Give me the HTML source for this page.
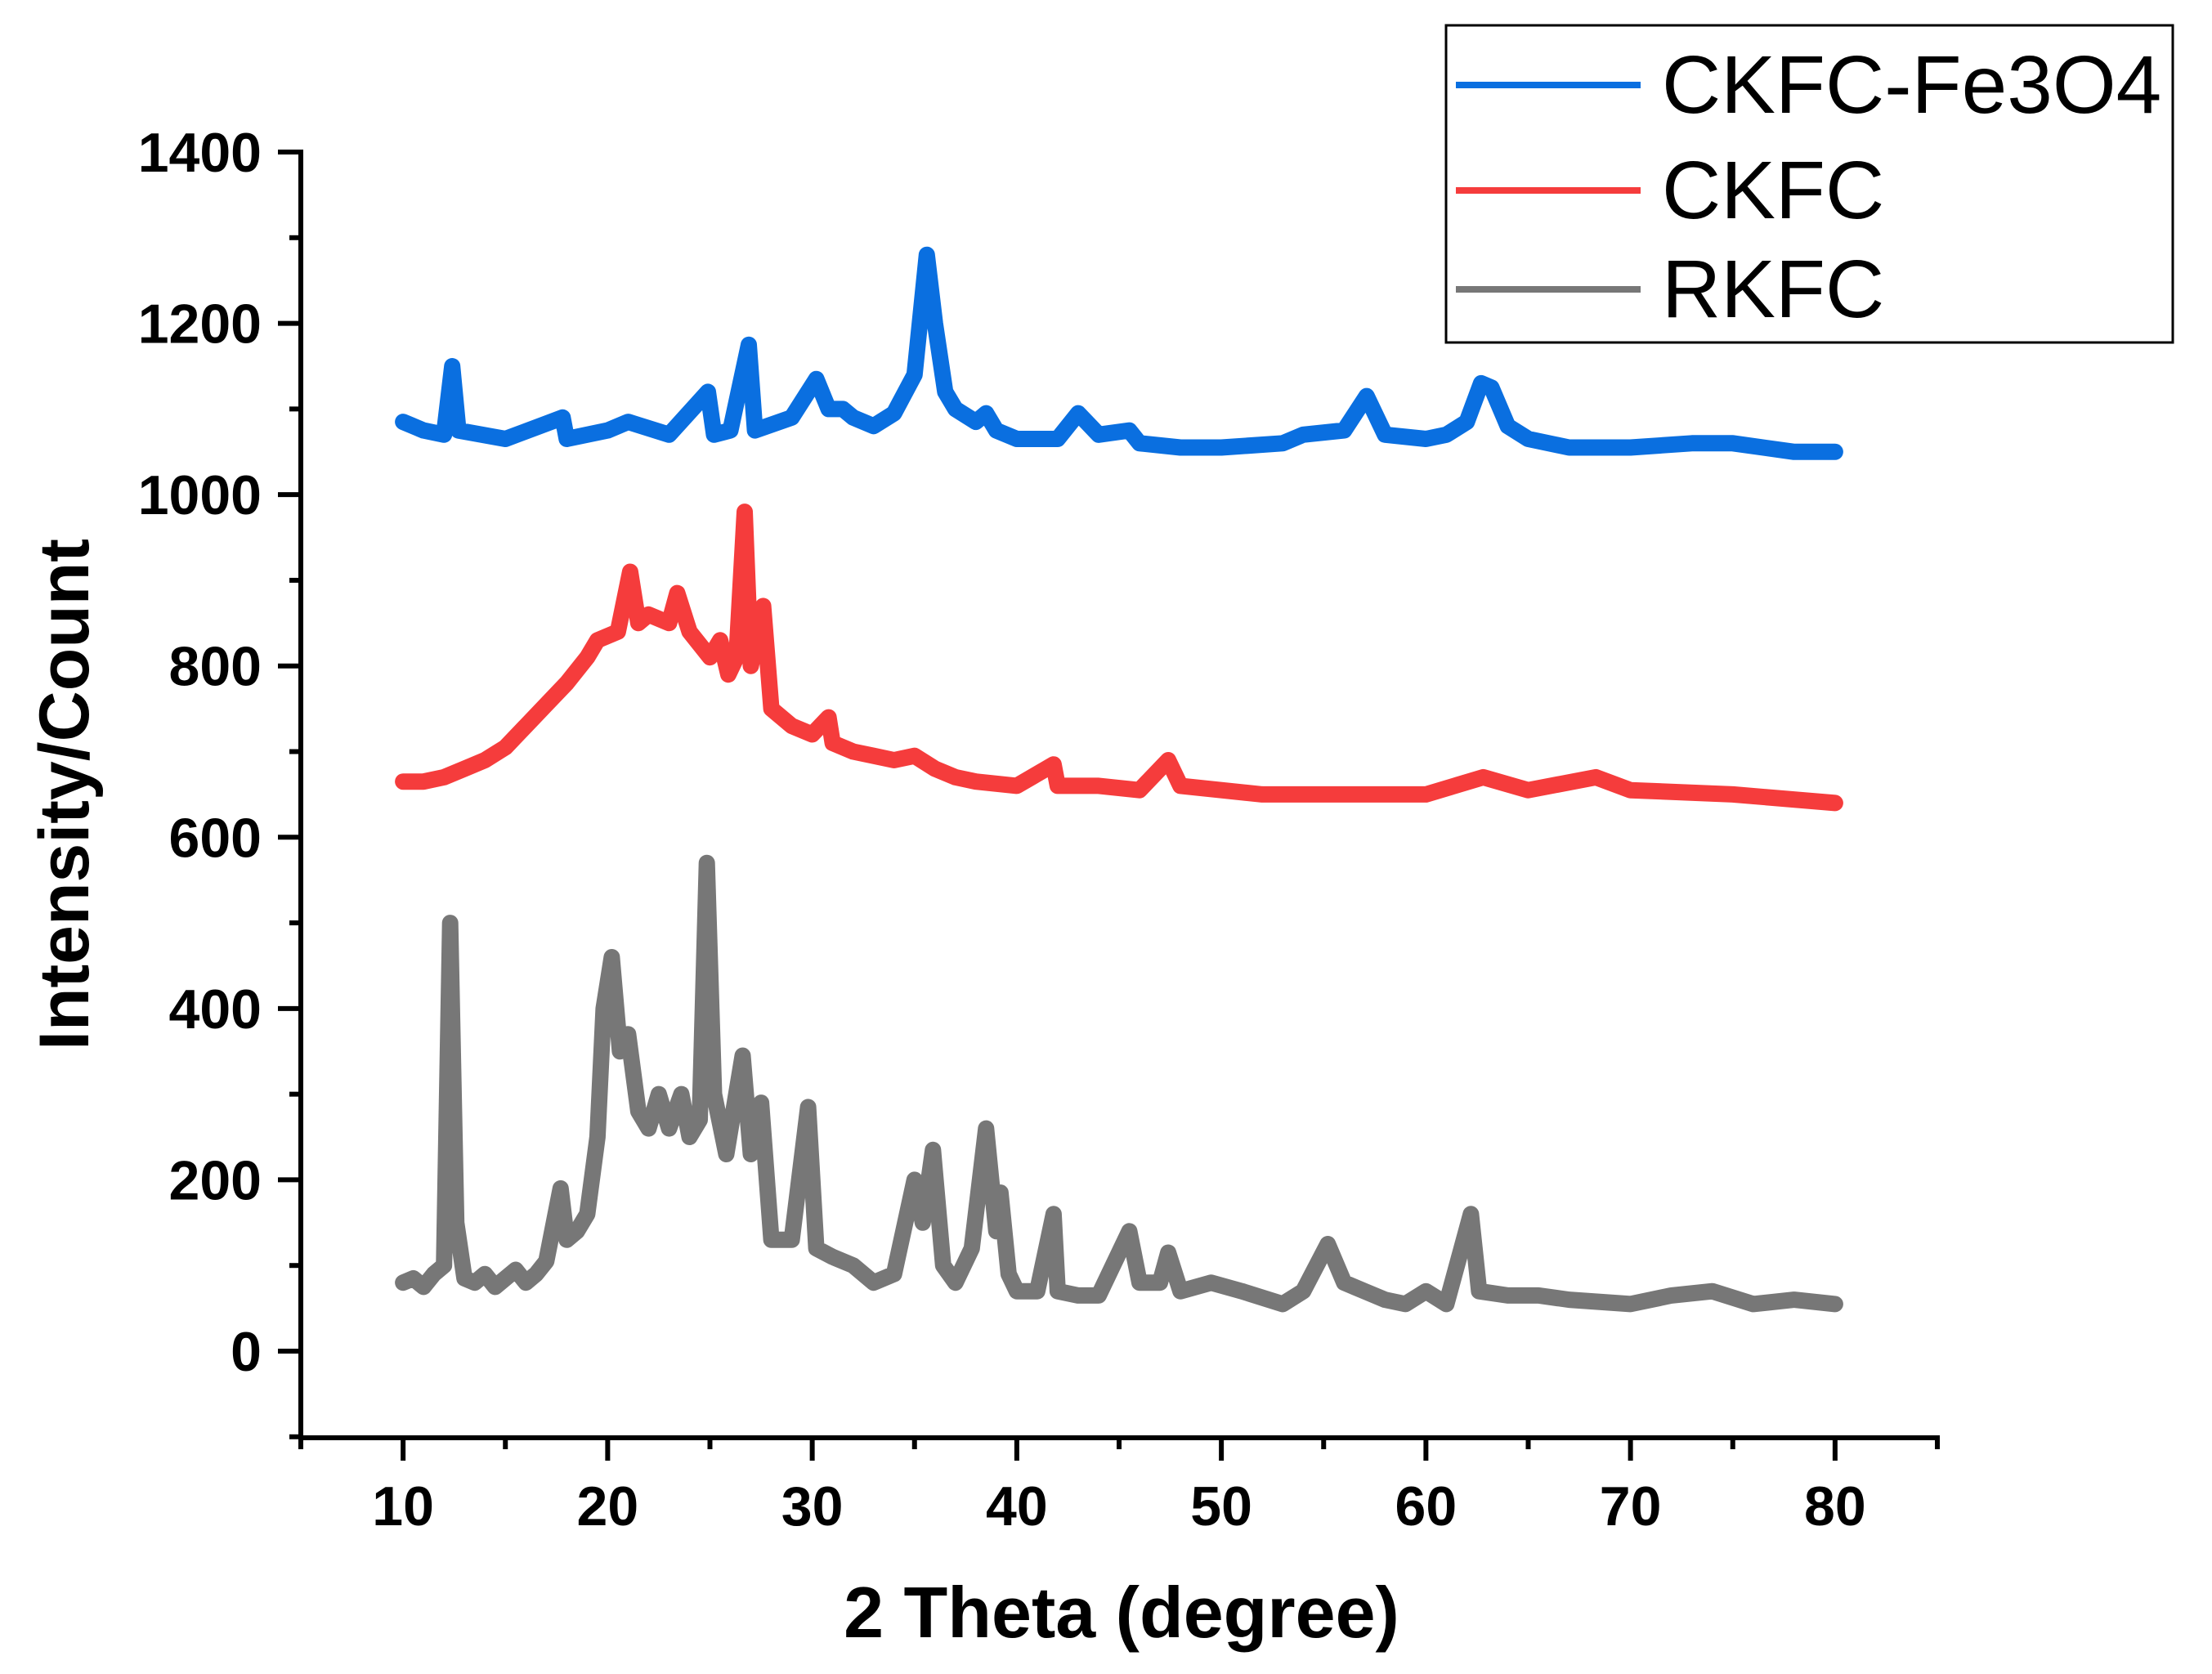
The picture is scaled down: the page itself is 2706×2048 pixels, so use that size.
<!DOCTYPE html>
<html><head><meta charset="utf-8"><style>
html,body{margin:0;padding:0;background:#fff;}
svg{display:block;font-family:"Liberation Sans",Arial,sans-serif;}
</style></head><body>
<svg id="chart" width="2706" height="2048" viewBox="0 0 2706 2048" xmlns="http://www.w3.org/2000/svg">
<g id="plot"></g>
<g id="axes"></g>
<text x="0" y="0" transform="translate(108,972) rotate(-90)" text-anchor="middle" font-size="86" font-weight="bold">Intensity/Count</text>
<text x="1372" y="2003" text-anchor="middle" font-size="88" font-weight="bold">2 Theta (degree)</text>
<g>
<rect x="1769" y="31" width="889" height="388" fill="#fff" stroke="#000" stroke-width="3"/>
<line x1="1781" y1="104" x2="2007" y2="104" stroke="#0a6fe0" stroke-width="8"/>
<text x="2033" y="138" font-size="100">CKFC-Fe3O4</text>
<line x1="1781" y1="233" x2="2007" y2="233" stroke="#f53c3c" stroke-width="8"/>
<text x="2033" y="267" font-size="100">CKFC</text>
<line x1="1781" y1="354" x2="2007" y2="354" stroke="#777" stroke-width="8"/>
<text x="2033" y="388" font-size="100">RKFC</text>
</g>
</svg>
<script>
const xTicks=[10,20,30,40,50,60,70,80];
const yTicks=[0,200,400,600,800,1000,1200,1400];
const rkfcX=[10,10.5,11,11.5,12,12.3,12.6,13,13.5,14,14.5,15,15.5,16,16.5,17,17.7,18,18.5,19,19.5,19.8,20.2,20.6,21,21.5,22,22.5,23,23.6,24,24.5,24.85,25.2,25.8,26.6,27,27.5,28,29,29.8,30.2,31,32,33,34,35,35.4,35.9,36.4,37,37.8,38.5,39,39.2,39.6,40,41,41.8,42,43,44,45.5,46,47,47.4,48,49.5,51,53,54,55.2,56,57,58,59,60,61,62.2,62.6,64,65.5,67,70,72,74,76,78,80];
const rkfcY=[80,85,75,90,100,500,150,85,80,90,75,85,95,80,90,105,190,130,140,160,250,400,460,350,370,280,260,300,260,300,250,270,570,300,230,345,230,290,130,130,285,120,110,100,80,90,200,150,235,100,80,120,260,140,185,90,70,70,160,70,65,65,140,80,80,115,70,80,70,55,70,125,80,70,60,55,70,55,160,70,65,65,60,55,65,70,55,60,55];
const ckfcX=[10,11,12,13,14,15,16,17,18,19,19.5,20.5,21.1,21.5,22,23,23.4,24,25,25.5,25.9,26.3,26.7,27,27.6,28,29,30,30.8,31,32,33,34,35,36,37,38,40,41.8,42,44,46,47.4,48,50,52,55,60,62.8,65,68.3,70,75,80];
const ckfcY=[665,665,670,680,690,705,730,755,780,810,830,840,910,850,860,850,885,840,810,830,790,810,980,800,870,750,730,720,740,710,700,695,690,695,680,670,665,660,685,660,660,655,690,660,655,650,650,650,670,655,670,655,650,640];
const feX=[10,11,12,12.4,12.7,15,17.8,18,20,21,23,24.9,25.2,26,26.9,27.2,29,30.2,30.8,31.5,32,33,34,35,35.6,36,36.5,37,38,38.5,39,40,42,43,44,45.5,46,48,50,53,54,56,57.1,57.8,58,60,61,62,62.7,63.2,64,65,67,70,73,75,78,80];
const feY=[1085,1075,1070,1150,1075,1065,1090,1065,1075,1085,1070,1120,1070,1075,1175,1075,1090,1135,1100,1100,1090,1080,1095,1140,1280,1200,1120,1100,1085,1095,1075,1065,1065,1095,1070,1075,1060,1055,1055,1060,1070,1075,1115,1080,1070,1065,1070,1085,1130,1125,1080,1065,1055,1055,1060,1060,1050,1050];
const NS='http://www.w3.org/2000/svg';
const xS=v=>368+(v-5)*(2370-368)/80;
const yS=v=>1653-v*(1653-186)/1400;
function mk(tag,attrs,parent){const e=document.createElementNS(NS,tag);for(const k in attrs)e.setAttribute(k,attrs[k]);parent.appendChild(e);return e;}
const plot=document.getElementById('plot');
const axes=document.getElementById('axes');
function series(xs,ys,color,name){
  let d='';
  xs.forEach((x,i)=>{d+=(i?'L':'M')+xS(x).toFixed(1)+','+yS(ys[i]).toFixed(1);});
  const p=mk('path',{d:d,fill:'none',stroke:color,'stroke-width':20,'stroke-linejoin':'round','stroke-linecap':'round'},plot);
  
  
}
series(rkfcX,rkfcY,'#777777','rkfc-line');
series(ckfcX,ckfcY,'#f53c3c','ckfc-line');
series(feX,feY,'#0a6fe0','ckfc-fe3o4-line');
const ya=mk('line',{x1:368,y1:183,x2:368,y2:1762,stroke:'#000','stroke-width':6},axes);


const xa=mk('line',{x1:365,y1:1759,x2:2373,y2:1759,stroke:'#000','stroke-width':6},axes);


for(let v=-100;v<=1400;v+=100){
  const major=(v%200===0);
  const t=mk('line',{x1:368-(major?28:14),y1:yS(v),x2:368,y2:yS(v),stroke:'#000','stroke-width':6},axes);
  
  
}
yTicks.forEach(v=>{
  const t=mk('text',{x:320,y:yS(v)+24,'text-anchor':'end','font-size':68,'font-weight':'bold'},axes);
  t.textContent=v;
  
  
});
for(let v=5;v<=85;v+=5){
  const major=(v%10===0);
  const t=mk('line',{x1:xS(v),y1:1759,x2:xS(v),y2:1759+(major?28:14),stroke:'#000','stroke-width':6},axes);
  
  
}
xTicks.forEach(v=>{
  const t=mk('text',{x:xS(v),y:1866,'text-anchor':'middle','font-size':68,'font-weight':'bold'},axes);
  t.textContent=v;
  
  
});
</script>
</body></html>
